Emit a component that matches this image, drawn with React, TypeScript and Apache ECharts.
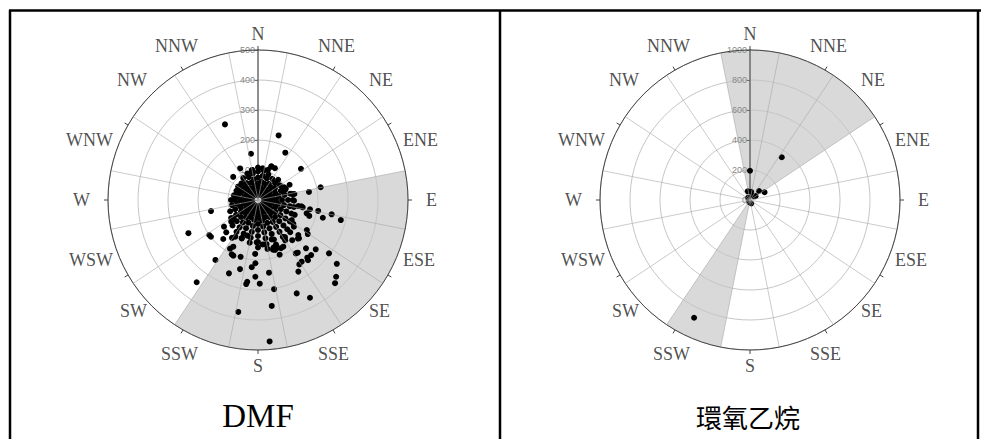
import React, { useEffect, useRef } from 'react';
import * as echarts from 'echarts';

// 16 compass directions, clockwise from north (22.5° apart)
const directions = ['N', 'NNE', 'NE', 'ENE', 'E', 'ESE', 'SE', 'SSE', 'S', 'SSW', 'SW', 'WSW', 'W', 'WNW', 'NW', 'NNW'];

// ---- DMF panel ----
const dmfMax = 500;
const dmfInterval = 100;
// shaded wind sectors [fromBearing, toBearing]
const dmfShaded = [[78.75, 213.75]];
// scattered points [concentration, bearing]
const dmfPoints = [
  [275, 336.4], [226, 17.7], [182, 30], [156, 351.4], [177, 54], [121, 330.4], [113, 313], [100, 348],
  [107, 8.4], [120, 22], [120, 28], [213, 78.5], [172, 81], [161, 256.8], [257, 244.5], [144, 231.9],
  [200, 234.3], [199, 232], [174, 221.7], [245, 215.4], [342, 216.7], [263, 201.6], [201, 205.8], [203, 203.9],
  [238, 194.6], [198, 197], [225, 185.3], [211, 182.4], [180, 183], [275, 187.5], [283, 188], [256, 182],
  [245, 171.4], [302, 169.8], [356, 172.6], [379, 190], [337, 157.5], [369, 152], [274, 150.6], [255, 147.3],
  [252, 144.7], [218, 144.7], [220, 143], [227, 135.2], [253, 130.5], [253, 139.5], [255, 136], [296, 126.9],
  [338, 129], [365, 134.5], [378, 137.2], [284, 103.6], [250, 101], [224, 105.3], [204, 100.3], [176, 100.1],
  [168, 105.3], [179, 107.3], [136, 98.5], [151, 99.3], [191, 121.6], [201, 124.4], [187, 133], [178, 131],
  [153, 144], [177, 151.5], [178, 154.5], [167, 162], [176, 161.2], [139, 160.8], [149, 174], [150, 171],
  [141, 181.8], [176, 207.9], [187, 209.9], [139, 203], [124, 196.7], [153, 214.6], [144, 211.7], [115, 231],
  [102, 233.5], [123, 80.6], [120, 91], [97, 64.2], [96, 69.7], [149, 126.6], [131, 120.7], [473, 175.3],
  [279, 178.8], [196, 158.4], [173, 163.2], [176, 139.6], [151, 224.5], [117, 64.2], [88, 71], [118, 80.3],
  [121, 21.5], [106, 18.3], [185, 134], [261, 140.3], [146, 98.3]
];
// dense core of the DMF cloud, read as radii along bearings
const dmfCoreBearings = [0, 11, 22, 34, 45, 56, 68, 79, 90, 101, 112, 124, 135, 146, 158, 169,
  180, 191, 203, 214, 225, 236, 248, 259, 270, 281, 293, 304, 315, 326, 338, 349];
const dmfCoreRadii = [
  [15, 35, 55, 75, 95, 108], [20, 42, 62, 82, 100], [18, 38, 58, 78, 92], [25, 45, 65, 85],
  [20, 40, 60, 80, 95], [28, 48, 68, 88], [22, 42, 62, 82, 100], [30, 50, 70, 90, 110],
  [20, 40, 60, 80, 100, 116], [28, 48, 68, 88, 108, 122], [22, 42, 62, 82, 102, 120, 132], [30, 50, 70, 90, 110, 128, 142],
  [20, 40, 60, 80, 100, 120, 138, 152], [28, 48, 68, 88, 108, 128, 148, 162], [22, 42, 62, 82, 102, 122, 142, 160, 172], [30, 50, 70, 90, 110, 130, 150, 166],
  [20, 40, 60, 80, 100, 120, 140, 158], [28, 48, 68, 88, 108, 128, 145], [22, 42, 62, 82, 102, 122, 138], [30, 50, 70, 90, 110, 128],
  [20, 40, 60, 80, 100, 120], [28, 48, 68, 88, 108], [22, 42, 62, 82, 100], [30, 50, 70, 88],
  [20, 40, 60, 78, 90], [28, 48, 68, 82], [22, 42, 62, 78], [30, 50, 68, 80],
  [20, 40, 60, 78], [28, 48, 68, 88], [22, 42, 62, 82, 95], [30, 50, 70, 90, 102]
];

// ---- Ethylene oxide panel ----
const eoMax = 1000;
const eoInterval = 200;
const eoShaded = [[348.75, 56.25], [191.25, 213.75]];
const eoPoints = [
  [195, 0], [355, 36.6], [60, 345], [55, 8], [85, 45], [110, 62], [35, 45], [45, 55], [20, 320],
  [869, 205.4], [15, 200], [25, 160]
];

const captions = ['DMF', '環氧乙烷'];

const GRID = '#c6c6c6';
const SPOKE = '#a8a8a8';
const SHADE = '#d9d9d9';
const LABEL_COLOR = '#222';
const RADIUS_PX = 150;
const LABEL_GAP_PX = 7;
const SIDE_EXTRA_PX = 11;

function buildPanel(idx: number, cx: number, cy: number, max: number, interval: number,
  shaded: number[][], points: number[][]) {
  const pa = idx * 2;
  const pb = idx * 2 + 1;
  const polar = [
    { center: [cx, cy], radius: RADIUS_PX },
    { center: [cx, cy], radius: RADIUS_PX }
  ];
  const angleAxis = [
    {
      polarIndex: pa, type: 'value', min: 0, max: 360, interval: 30, startAngle: 90, clockwise: true,
      axisLine: { show: true, lineStyle: { color: '#444', width: 1 } },
      axisTick: { show: true, length: 4, lineStyle: { color: '#444' } },
      axisLabel: { show: false }, splitLine: { show: false }, z: 6
    },
    {
      polarIndex: pb, type: 'value', min: 0, max: 360, interval: 22.5, startAngle: 78.75, clockwise: true,
      axisLine: { show: false }, axisTick: { show: false }, axisLabel: { show: false },
      splitLine: { show: true, lineStyle: { color: SPOKE, width: 0.6 } }, z: 4
    }
  ];
  const radiusAxis = [
    {
      polarIndex: pa, type: 'value', min: 0, max, interval,
      axisLine: { show: true, lineStyle: { color: '#6a6a6a', width: 1.5 } },
      axisTick: { show: true, inside: true, length: 3, lineStyle: { color: '#6a6a6a' } },
      axisLabel: { show: true, inside: true, fontSize: 9, color: '#888', margin: 3, fontFamily: 'Liberation Sans', formatter: (v: number) => String(v) },
      splitLine: { show: true, lineStyle: { color: GRID, width: 1 } }, z: 2
    },
    { polarIndex: pb, type: 'value', min: 0, max: 1, show: false }
  ];
  const labelData = directions.map((d, i) => {
    const a = i * 22.5 * Math.PI / 180;
    const sx = Math.sin(a);
    const c = Math.cos(a);
    const align = Math.abs(sx) < 0.3 ? 'center' : (sx > 0 ? 'left' : 'right');
    const valign = c > 0.5 ? 'bottom' : (c < -0.8 ? 'top' : 'middle');
    const rPx = RADIUS_PX + LABEL_GAP_PX + (Math.abs(sx) > 0.99 ? SIDE_EXTRA_PX : 0);
    return {
      name: d,
      value: [max * rPx / RADIUS_PX, i * 22.5],
      label: { position: [0.5, 0.5], align, verticalAlign: valign, color: LABEL_COLOR }
    };
  });
  const series = [
    {
      type: 'custom', coordinateSystem: 'polar', polarIndex: pa, z: 1, silent: true,
      encode: { radius: 0, angle: 1 },
      data: shaded,
      renderItem: (params: any, api: any) => {
        const cs = params.coordSys;
        const s = api.value(0);
        let e = api.value(1);
        if (e < s) e += 360;
        return {
          type: 'sector',
          shape: { cx: cs.cx, cy: cs.cy, r0: 0, r: cs.r, startAngle: (s - 90) * Math.PI / 180, endAngle: (e - 90) * Math.PI / 180, clockwise: true },
          style: { fill: SHADE }
        };
      }
    },
    {
      type: 'scatter', coordinateSystem: 'polar', polarIndex: pa, z: 3, silent: true,
      symbolSize: 6, itemStyle: { color: '#000', opacity: 1 },
      data: points
    },
    {
      type: 'scatter', coordinateSystem: 'polar', polarIndex: pa, z: 7, silent: true, clip: false,
      symbolSize: 1, itemStyle: { color: 'rgba(0,0,0,0)' },
      data: labelData,
      label: { show: true, formatter: '{b}', fontFamily: 'Liberation Serif', fontSize: 18, color: LABEL_COLOR, textBorderWidth: 0 }
    }
  ];
  return { polar, angleAxis, radiusAxis, series };
}

export default function App() {
  const ref = useRef<HTMLDivElement>(null);
  useEffect(() => {
    if (!ref.current) return;
    const chart = echarts.init(ref.current, undefined, { renderer: 'svg' });
    const core: number[][] = [];
    dmfCoreBearings.forEach((b, i) => dmfCoreRadii[i].forEach((r) => core.push([r, b])));
    const p1 = buildPanel(0, 258, 200, dmfMax, dmfInterval, dmfShaded, [...core, ...dmfPoints]);
    const p2 = buildPanel(1, 750, 200, eoMax, eoInterval, eoShaded, eoPoints);
    const option: any = {
      animation: false,
      backgroundColor: '#fff',
      polar: [...p1.polar, ...p2.polar],
      angleAxis: [...p1.angleAxis, ...p2.angleAxis],
      radiusAxis: [...p1.radiusAxis, ...p2.radiusAxis],
      series: [...p1.series, ...p2.series],
      graphic: [
        { type: 'line', shape: { x1: 9, y1: 10.5, x2: 981, y2: 10.5 }, style: { stroke: '#000', lineWidth: 2.5 } },
        { type: 'line', shape: { x1: 10, y1: 10, x2: 10, y2: 439 }, style: { stroke: '#000', lineWidth: 2.5 } },
        { type: 'line', shape: { x1: 500, y1: 10, x2: 500, y2: 439 }, style: { stroke: '#000', lineWidth: 2.5 } },
        { type: 'line', shape: { x1: 978, y1: 10, x2: 978, y2: 439 }, style: { stroke: '#000', lineWidth: 2.5 } },
        { type: 'text', x: 258, y: 416, style: { text: captions[0], font: '33px "Liberation Serif"', fill: '#000', textAlign: 'center', textVerticalAlign: 'middle' } },
        { type: 'text', x: 748, y: 416, style: { text: captions[1], font: '26px "Noto Sans CJK TC"', fill: '#000', textAlign: 'center', textVerticalAlign: 'middle' } }
      ]
    };
    chart.setOption(option);
    return () => chart.dispose();
  }, []);
  return <div ref={ref} style={{ position: 'fixed', left: 0, top: 0, width: 981, height: 439 }} />;
}
